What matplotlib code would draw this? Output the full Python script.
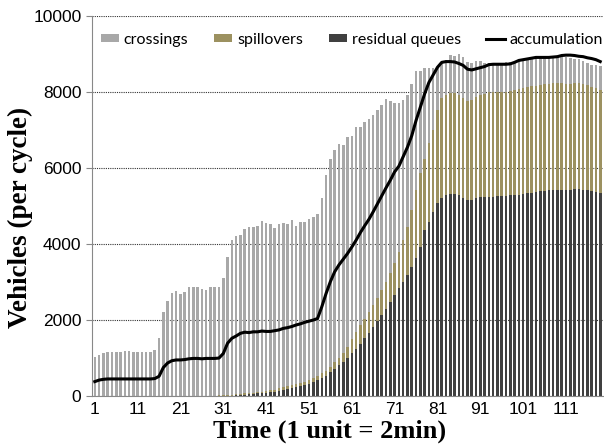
import numpy as np
import matplotlib.pyplot as plt

# values (vehicles per cycle), time units 1..119
residual = [0] * 33 + [
    20, 30, 40, 50, 60, 70, 80,
    90, 100, 110, 130, 150, 180, 200, 230, 260, 290,
    320, 360, 410, 470, 540, 620, 720, 810, 900, 1000,
    1120, 1250, 1380, 1520, 1670, 1820, 1970, 2130, 2300, 2480,
    2650, 2830, 3000, 3180, 3400, 3620, 3930, 4370, 4590, 4850,
    5070, 5200, 5290, 5320, 5320, 5280, 5200, 5160, 5170, 5200,
    5230, 5240, 5250, 5250, 5260, 5260, 5270, 5280, 5280, 5290,
    5310, 5330, 5350, 5370, 5390, 5400, 5410, 5420, 5420, 5430,
    5430, 5430, 5440, 5440, 5430, 5420, 5400, 5370, 5330,
]

spillovers = [0] * 19 + [
    10, 10, 10, 10, 10, 10, 10, 10, 10, 10, 15, 15, 20, 20,
    25, 30, 30, 30, 30, 30, 30,
    40, 50, 60, 70, 80, 90, 90, 90, 90, 90,
    100, 110, 120, 130, 130, 150, 180, 200, 220, 300,
    370, 440, 480, 520, 550, 570, 610, 660, 700, 750,
    860, 970, 1100, 1280, 1500, 1800, 1930, 1880, 2060, 2150,
    2460, 2630, 2630, 2650, 2650, 2640, 2630, 2610, 2620, 2680,
    2690, 2720, 2740, 2740, 2740, 2740, 2740, 2750, 2760, 2800,
    2800, 2800, 2800, 2800, 2800, 2810, 2810, 2810, 2810, 2800,
    2770, 2770, 2790, 2790, 2790, 2760, 2740, 2730, 2730,
]

crossings = [
    1030, 1070, 1120, 1150, 1150, 1150, 1160, 1180, 1180, 1170,
    1170, 1160, 1170, 1160, 1200, 1530, 2220, 2500, 2720,
    2760, 2680, 2730, 2870, 2860, 2870, 2810, 2770, 2870, 2850,
    2845, 3085, 3650, 4080,
    4160, 4190, 4320, 4380, 4350, 4370, 4490,
    4410, 4370, 4260, 4320, 4330, 4250, 4340, 4160, 4240, 4210,
    4240, 4230, 4270, 4600, 5150, 5480, 5570, 5620, 5480, 5510,
    5350, 5400, 5230, 5180, 5080, 5000, 4950, 4870, 4820, 4540,
    4190, 3920, 3690, 3460, 3310, 3120, 2690, 2370, 1970, 1620,
    1120, 920, 920, 1000, 980, 1080, 1080, 1030, 960, 940,
    900, 810, 760, 760, 750, 750, 770, 770, 760, 730,
    740, 750, 750, 730, 720, 700, 700, 700, 710, 710,
    720, 700, 650, 630, 600, 580, 580, 600, 620,
]

accumulation = [
    380, 420, 440, 450, 450, 450, 450, 450, 450, 450,
    450, 450, 450, 450, 460, 520, 750, 870, 930, 950,
    950, 960, 980, 990, 990, 980, 990, 990, 990, 1000,
    1120, 1390, 1520, 1580, 1650, 1680, 1670, 1690, 1690, 1710,
    1700, 1700, 1720, 1740, 1780, 1800, 1830, 1870, 1900, 1940,
    1970, 2000, 2040, 2350, 2700, 3010, 3270, 3450, 3600, 3750,
    3920, 4100, 4300, 4480, 4650, 4850, 5060, 5270, 5480, 5680,
    5900, 6050, 6300, 6550, 6850, 7250, 7600, 7950, 8250, 8450,
    8650, 8780, 8800, 8800, 8790, 8750, 8700, 8600, 8580, 8610,
    8640, 8670, 8720, 8730, 8730, 8730, 8730, 8740, 8780, 8830,
    8850, 8870, 8890, 8910, 8910, 8910, 8910, 8920, 8930, 8960,
    8970, 8970, 8960, 8940, 8930, 8900, 8880, 8850, 8800,
]

time = np.arange(1, len(crossings) + 1)
xtick_pos = list(range(1, 112, 10))

fig = plt.figure(figsize=(6.04, 4.44), dpi=100)
ax = fig.add_axes([0.152, 0.108, 0.846, 0.856])

res = np.array(residual)
spl = np.array(spillovers)
b1 = ax.bar(time, crossings, width=0.6, bottom=res + spl, color="#a8a8a8", label="crossings", zorder=2)
b2 = ax.bar(time, spillovers, width=0.6, bottom=res, color="#9c9160", label="spillovers", zorder=2)
b3 = ax.bar(time, residual, width=0.6, color="#404040", label="residual queues", zorder=2)
l1, = ax.plot(time, accumulation, color="black", lw=2.2, label="accumulation", zorder=3)

ax.set_xlim(0.3, 119.6)
ax.set_ylim(0, 10000)
ax.set_yticks(range(0, 10001, 2000))
ax.set_xticks(xtick_pos)
ax.yaxis.grid(True, color="#333333", linestyle=(0, (1, 1)), lw=0.8, zorder=1)
ax.set_axisbelow(True)

for s in ["top", "right"]:
    ax.spines[s].set_visible(False)
ax.spines["left"].set_color("#888888")
ax.spines["bottom"].set_color("#888888")
ax.tick_params(axis="y", length=4, color="#888888", labelsize=12.5, labelfontfamily="Liberation Sans")
ax.tick_params(axis="x", length=0, pad=4, labelsize=12.5, labelfontfamily="Liberation Sans")

ax.set_ylabel("Vehicles (per cycle)", fontsize=19.5, fontweight="bold", family="Liberation Serif")
ax.set_xlabel("Time (1 unit = 2min)", fontsize=19, fontweight="bold", family="Liberation Serif")
ax.yaxis.set_label_coords(-0.115, 0.471)
ax.xaxis.set_label_coords(0.466, -0.062)

ax.legend([b1, b2, b3, l1], ["crossings", "spillovers", "residual queues", "accumulation"],
          loc="upper left", bbox_to_anchor=(0.0, 0.979), ncol=4, frameon=False,
          prop={"family": "Lato", "size": 11.5}, handlelength=1.15, handleheight=0.45,
          handletextpad=0.3, columnspacing=1.6, borderaxespad=0.25, borderpad=0.3)

fig.savefig("out.png", dpi=100)
